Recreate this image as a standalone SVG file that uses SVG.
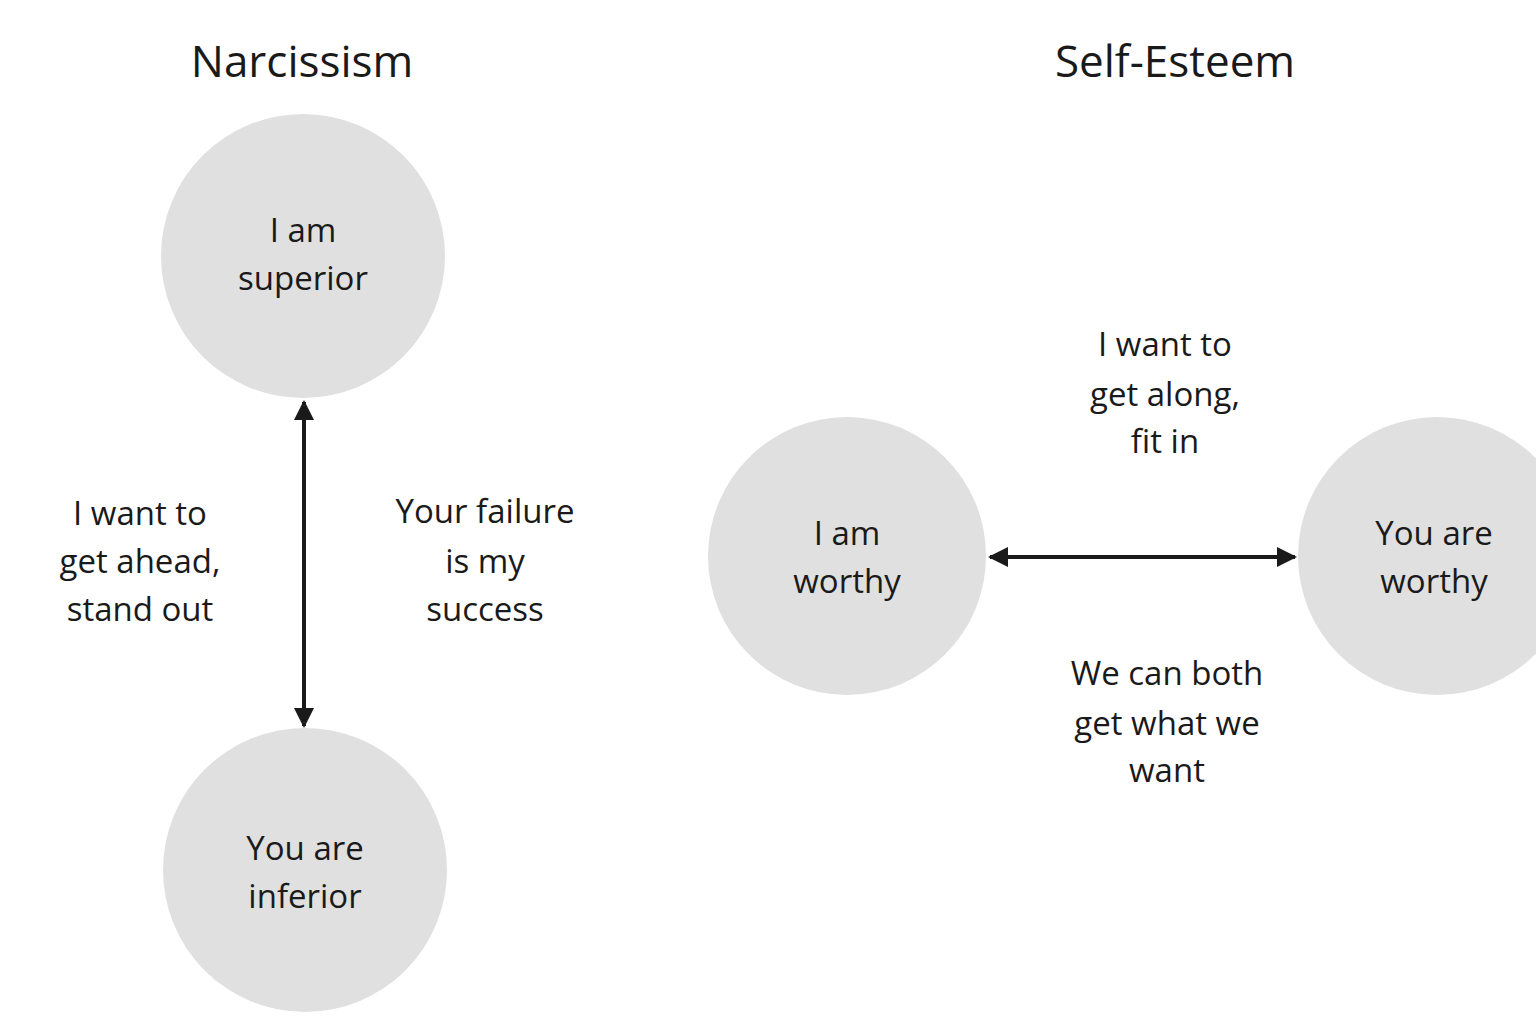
<svg xmlns="http://www.w3.org/2000/svg" width="1536" height="1024" viewBox="0 0 1536 1024">
<style>
text{font-family:"Open Sans","Noto Sans",sans-serif;fill:#1a1a1a;text-anchor:middle;font-size:33px}
.t{font-size:44px}
circle{fill:#e0e0e0}
line{stroke:#1a1a1a;stroke-width:4}
</style>
<defs><marker id="a" viewBox="0 0 10 10" refX="9" refY="5" markerWidth="5" markerHeight="5" orient="auto-start-reverse"><path d="M0,0L10,5L0,10z" fill="#1a1a1a"/></marker></defs>
<rect width="1536" height="1024" fill="#fff"/>
<text class="t" x="302" y="77">Narcissism</text>
<text class="t" x="1175" y="77">Self-Esteem</text>
<g id="superior"><circle cx="303" cy="256" r="142"/><text x="303" y="242">I am</text><text x="303" y="290">superior</text></g>
<g id="inferior"><circle cx="305" cy="870" r="142"/><text x="305" y="860">You are</text><text x="305" y="908">inferior</text></g>
<g id="iworthy"><circle cx="847" cy="556" r="139"/><text x="847" y="545">I am</text><text x="847" y="593">worthy</text></g>
<g id="yworthy"><circle cx="1437" cy="556" r="139"/><text x="1434" y="545">You are</text><text x="1434" y="593">worthy</text></g>
<g id="connectors">
<line x1="304" y1="402" x2="304" y2="726" marker-start="url(#a)" marker-end="url(#a)"/>
<line x1="990" y1="557" x2="1295" y2="557" marker-start="url(#a)" marker-end="url(#a)"/>
</g>
<g id="labels">
<text x="140" y="525">I want to</text><text x="140" y="573">get ahead,</text><text x="140" y="621">stand out</text>
<text x="485" y="523">Your failure</text><text x="485" y="573">is my</text><text x="485" y="621">success</text>
<text x="1165" y="356">I want to</text><text x="1165" y="406">get along,</text><text x="1165" y="453">fit in</text>
<text x="1167" y="685">We can both</text><text x="1167" y="735">get what we</text><text x="1167" y="782">want</text>
</g>
</svg>
